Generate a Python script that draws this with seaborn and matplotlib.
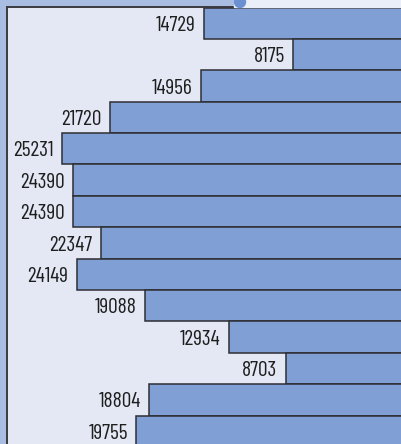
import numpy as np
import pandas as pd
import matplotlib.pyplot as plt
import matplotlib.patches as mpatches
import seaborn as sns

sns.set_theme(style='white')
plt.rcParams['font.family'] = ['Barlow Condensed', 'DejaVu Sans']

categories = ['r01', 'r02', 'r03', 'r04', 'r05', 'r06', 'r07',
              'r08', 'r09', 'r10', 'r11', 'r12', 'r13', 'r14']
values = [14729, 8175, 14956, 21720, 25231, 24390, 24390,
          22347, 24149, 19088, 12934, 8703, 18804, 19755]

df = pd.DataFrame({'cat': categories, 'val': values})

W, H = 401, 444
fig = plt.figure(figsize=(W / 100, H / 100), dpi=100)
fig.patch.set_facecolor('#a9bce1')

# light strip at top right and the small handle dot
fig.patches.append(mpatches.Rectangle((234 / W, 1 - 7 / H), 1, 7 / H,
                                      transform=fig.transFigure, color='#e9eef8', zorder=0))
fig.patches.append(mpatches.Ellipse((240 / W, 1 - 2 / H), 11 / W, 11 / H,
                                    transform=fig.transFigure, color='#6b90d2', zorder=1))

ax_left, ax_top, ax_right, ax_bottom = 7, 7.5, 403.7, 447
ax = fig.add_axes([ax_left / W, 1 - ax_bottom / H,
                   (ax_right - ax_left) / W, (ax_bottom - ax_top) / H])
ax.set_facecolor('#e3e8f4')

sns.barplot(data=df, x='val', y='cat', orient='h', width=1.0,
            color='#809fd4', saturation=1, edgecolor='#2e2e33', linewidth=1.1, ax=ax)

ax.set_xlim(29290, 0)
ax.set_ylim(len(values) - 0.5, -0.5)

for i, v in enumerate(values):
    ax.annotate(str(v), (v, i), xytext=(-6, -1.5), textcoords='offset points',
                ha='right', va='center', fontsize=15.5, color='#1e1e1e')

ax.set_xticks([])
ax.set_yticks([])
ax.set_xlabel('')
ax.set_ylabel('')
for s in ['right', 'bottom']:
    ax.spines[s].set_visible(False)
for s in ['left', 'top']:
    ax.spines[s].set_color('#3a3a3f')
    ax.spines[s].set_linewidth(1.4)

fig.savefig('out.png', dpi=100)
